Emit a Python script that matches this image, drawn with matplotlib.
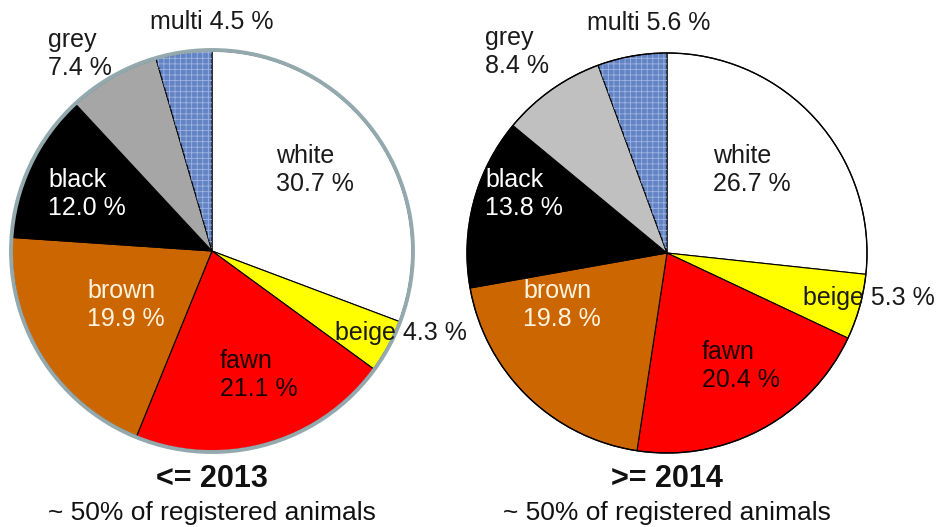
import matplotlib
matplotlib.use("Agg")
import matplotlib.pyplot as plt
from matplotlib.patches import Circle, Wedge

# ------------------------------------------------------- данные
colours = ["white", "beige", "fawn", "brown", "black", "grey", "multi"]
share_2013 = [30.7, 4.3, 21.1, 19.9, 12.0, 7.4, 4.5]
share_2014 = [26.7, 5.3, 20.4, 19.8, 13.8, 8.4, 5.6]
titles = ["<= 2013", ">= 2014"]
subtitle = "~ 50% of registered animals"

face = {"white": "#ffffff", "beige": "#ffff00", "fawn": "#ff0000",
        "brown": "#cc6600", "black": "#000000", "grey": "#a6a6a6",
        "multi": "#6283c4"}
face2 = dict(face, grey="#c0c0c0")
txtcol = {"brown": "#fff4e0", "black": "white", "fawn": "#1a0000"}

W, H = 938, 527
fig = plt.figure(figsize=(W / 100, H / 100), dpi=100)
ax = fig.add_axes([0, 0, 1, 1])

LBL = ["Liberation Sans", "DejaVu Sans"]

# левый край и центр по вертикали подписей (пиксели, y сверху)
pos_2013 = {"white": (276, 170), "beige": (335, 333), "fawn": (220, 375),
            "brown": (87, 305), "black": (48, 194), "grey": (48, 54),
            "multi": (150, 22)}
pos_2014 = {"white": (713, 170), "beige": (803, 298), "fawn": (702, 366),
            "brown": (523, 305), "black": (485, 194), "grey": (485, 52),
            "multi": (587, 23)}

pies = [(share_2013, (212, 251), face, pos_2013, titles[0]),
        (share_2014, (667, 253), face2, pos_2014, titles[1])]
R = 200

plt.rcParams["hatch.linewidth"] = 0.6

for k, (vals, (cx, cy), fc, lpos, title) in enumerate(pies):
    c = (cx, H - cy)
    wedges, _ = ax.pie(vals, colors=[fc[n] for n in colours], startangle=90,
                       counterclock=False, radius=R, center=c,
                       wedgeprops=dict(edgecolor="black", linewidth=0.8))
    # текстура "multi"
    w = wedges[-1]
    ax.add_patch(Wedge(c, R, w.theta1, w.theta2, facecolor="none",
                       edgecolor="#9fb4e0", linewidth=0, hatch="+++"))
    if k == 0:
        ax.add_patch(Circle(c, R + 1, fill=False, edgecolor="#93a9ad",
                            linewidth=2.8, zorder=5))
    else:
        ax.add_patch(Circle(c, R, fill=False, edgecolor="black",
                            linewidth=1.0, zorder=5))
    for n, v in zip(colours, vals):
        x, y = lpos[n]
        if n in ("beige", "multi"):
            s = f"{n} {v:.1f} %"
        else:
            s = f"{n}\n{v:.1f} %"
        ax.text(x, H - y, s, ha="left", va="center", fontsize=18,
                color=txtcol.get(n, "#1a1a1a"), family=LBL,
                linespacing=1.25, zorder=6)
    ax.text(cx, H - 479, title, ha="center", va="center", fontsize=22,
            fontweight="bold", family=LBL, color="#111111")
    ax.text(cx, H - 513, subtitle, ha="center", va="center", fontsize=19,
            family=LBL, color="#111111")

ax.set_xlim(0, W)
ax.set_ylim(0, H)
ax.set_aspect("auto")
ax.axis("off")
fig.savefig("out.png", dpi=100)
